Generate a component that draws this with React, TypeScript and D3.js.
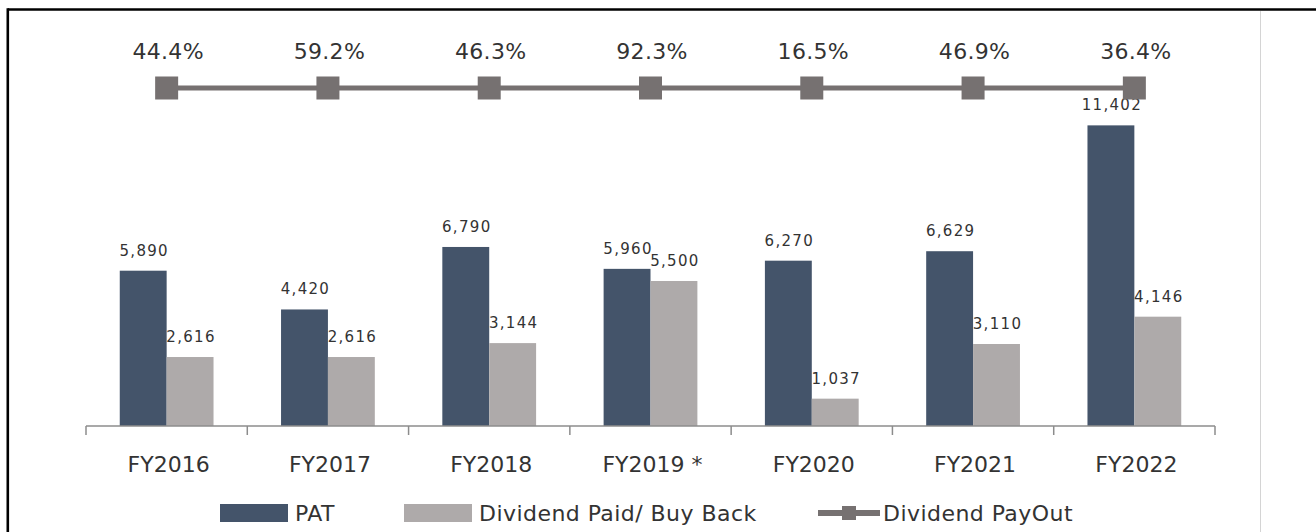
import React from "react";
import * as d3 from "d3";

const categories = ["FY2016", "FY2017", "FY2018", "FY2019 *", "FY2020", "FY2021", "FY2022"];
const patValues = [5890, 4420, 6790, 5960, 6270, 6629, 11402];
const dividendValues = [2616, 2616, 3144, 5500, 1037, 3110, 4146];
const payoutValues = [44.4, 59.2, 46.3, 92.3, 16.5, 46.9, 36.4];
const seriesNames = ["PAT", "Dividend Paid/ Buy Back", "Dividend PayOut"];

const W = 1316;
const H = 532;
const PAT_COLOR = "#44546A";
const DIV_COLOR = "#AEAAAA";
const LINE_COLOR = "#767171";
const AXIS_COLOR = "#8C8C8C";
const TEXT_COLOR = "#333333";
const FONT = "'DejaVu Sans', Verdana, sans-serif";

export default function App() {
  const x = d3.scaleBand<string>().domain(categories).range([86, 1215]).padding(0);
  const x1 = d3
    .scaleBand<string>()
    .domain(["pat", "div"])
    .range([0, x.bandwidth()])
    .paddingInner(0)
    .paddingOuter(0.72);
  const y = d3.scaleLinear().domain([0, 12000]).range([426, 109.6]);
  const yRow = d3.scalePoint<string>().domain(["payout"]).range([88, 88]);
  const fmt = d3.format(",");

  const bars = categories.flatMap((c, i) => [
    { key: "pat", c, v: patValues[i], color: PAT_COLOR },
    { key: "div", c, v: dividendValues[i], color: DIV_COLOR },
  ]);

  const linePts: [number, number][] = categories.map((c) => [
    (x(c) as number) + x.bandwidth() / 2,
    yRow("payout") as number,
  ]);
  const lineGen = d3.line();

  const tickXs = [...categories.map((c) => x(c) as number), x.range()[1]];
  const marker = 23;

  return (
    <svg
      width={W}
      height={H}
      style={{ position: "absolute", left: 0, top: 0, background: "#fff" }}
      fontFamily={FONT}
    >
      <rect x={0} y={0} width={W} height={H} fill="#fff" />
      {/* frame */}
      <line x1={7.8} y1={9.5} x2={W} y2={9.5} stroke="#000" strokeWidth={2.6} />
      <line x1={7.8} y1={8.2} x2={7.8} y2={H} stroke="#000" strokeWidth={2.6} />
      <line x1={1260.5} y1={11} x2={1260.5} y2={H} stroke="#D4D4D4" strokeWidth={1} />

      {/* bars */}
      {bars.map((b, i) => {
        const bx = (x(b.c) as number) + (x1(b.key) as number);
        return (
          <rect
            key={i}
            x={bx}
            y={y(b.v)}
            width={x1.bandwidth()}
            height={y(0) - y(b.v)}
            fill={b.color}
          />
        );
      })}
      {/* bar labels */}
      {bars.map((b, i) => {
        const bx = (x(b.c) as number) + (x1(b.key) as number) + x1.bandwidth() / 2;
        return (
          <text
            key={"l" + i}
            x={bx + 1}
            y={y(b.v) - 15}
            textAnchor="middle"
            fontSize={15}
            letterSpacing={1.3}
            fill={TEXT_COLOR}
          >
            {fmt(b.v)}
          </text>
        );
      })}

      {/* axis */}
      <line x1={x.range()[0]} x2={x.range()[1]} y1={y(0)} y2={y(0)} stroke={AXIS_COLOR} strokeWidth={1.5} />
      {tickXs.map((tx, i) => (
        <line key={"t" + i} x1={tx} x2={tx} y1={y(0)} y2={y(0) + 9} stroke={AXIS_COLOR} strokeWidth={1.5} />
      ))}
      {categories.map((c) => (
        <text
          key={"c" + c}
          x={(x(c) as number) + x.bandwidth() / 2 + 2}
          y={471.5}
          textAnchor="middle"
          fontSize={22}
          fill={TEXT_COLOR}
        >
          {c}
        </text>
      ))}

      {/* payout line */}
      <path d={lineGen(linePts) || ""} stroke={LINE_COLOR} strokeWidth={5} fill="none" />
      {linePts.map(([px, py], i) => (
        <rect key={"m" + i} x={px - marker / 2} y={py - marker / 2} width={marker} height={marker} fill={LINE_COLOR} />
      ))}
      {linePts.map(([px], i) => (
        <text key={"p" + i} x={px + 1.5} y={59.3} textAnchor="middle" fontSize={22} letterSpacing={0.3} fill={TEXT_COLOR}>
          {payoutValues[i].toFixed(1)}%
        </text>
      ))}

      {/* legend */}
      <g fontSize={22} fill={TEXT_COLOR} letterSpacing={0.45}>
        <rect x={220} y={504} width={68} height={18} fill={PAT_COLOR} />
        <text x={295} y={521}>{seriesNames[0]}</text>
        <rect x={404} y={504} width={68} height={18} fill={DIV_COLOR} />
        <text x={479} y={521}>{seriesNames[1]}</text>
        <line x1={818} x2={880} y1={513} y2={513} stroke={LINE_COLOR} strokeWidth={6} />
        <rect x={842} y={506} width={14} height={14} fill={LINE_COLOR} />
        <text x={883} y={521}>{seriesNames[2]}</text>
      </g>
    </svg>
  );
}
